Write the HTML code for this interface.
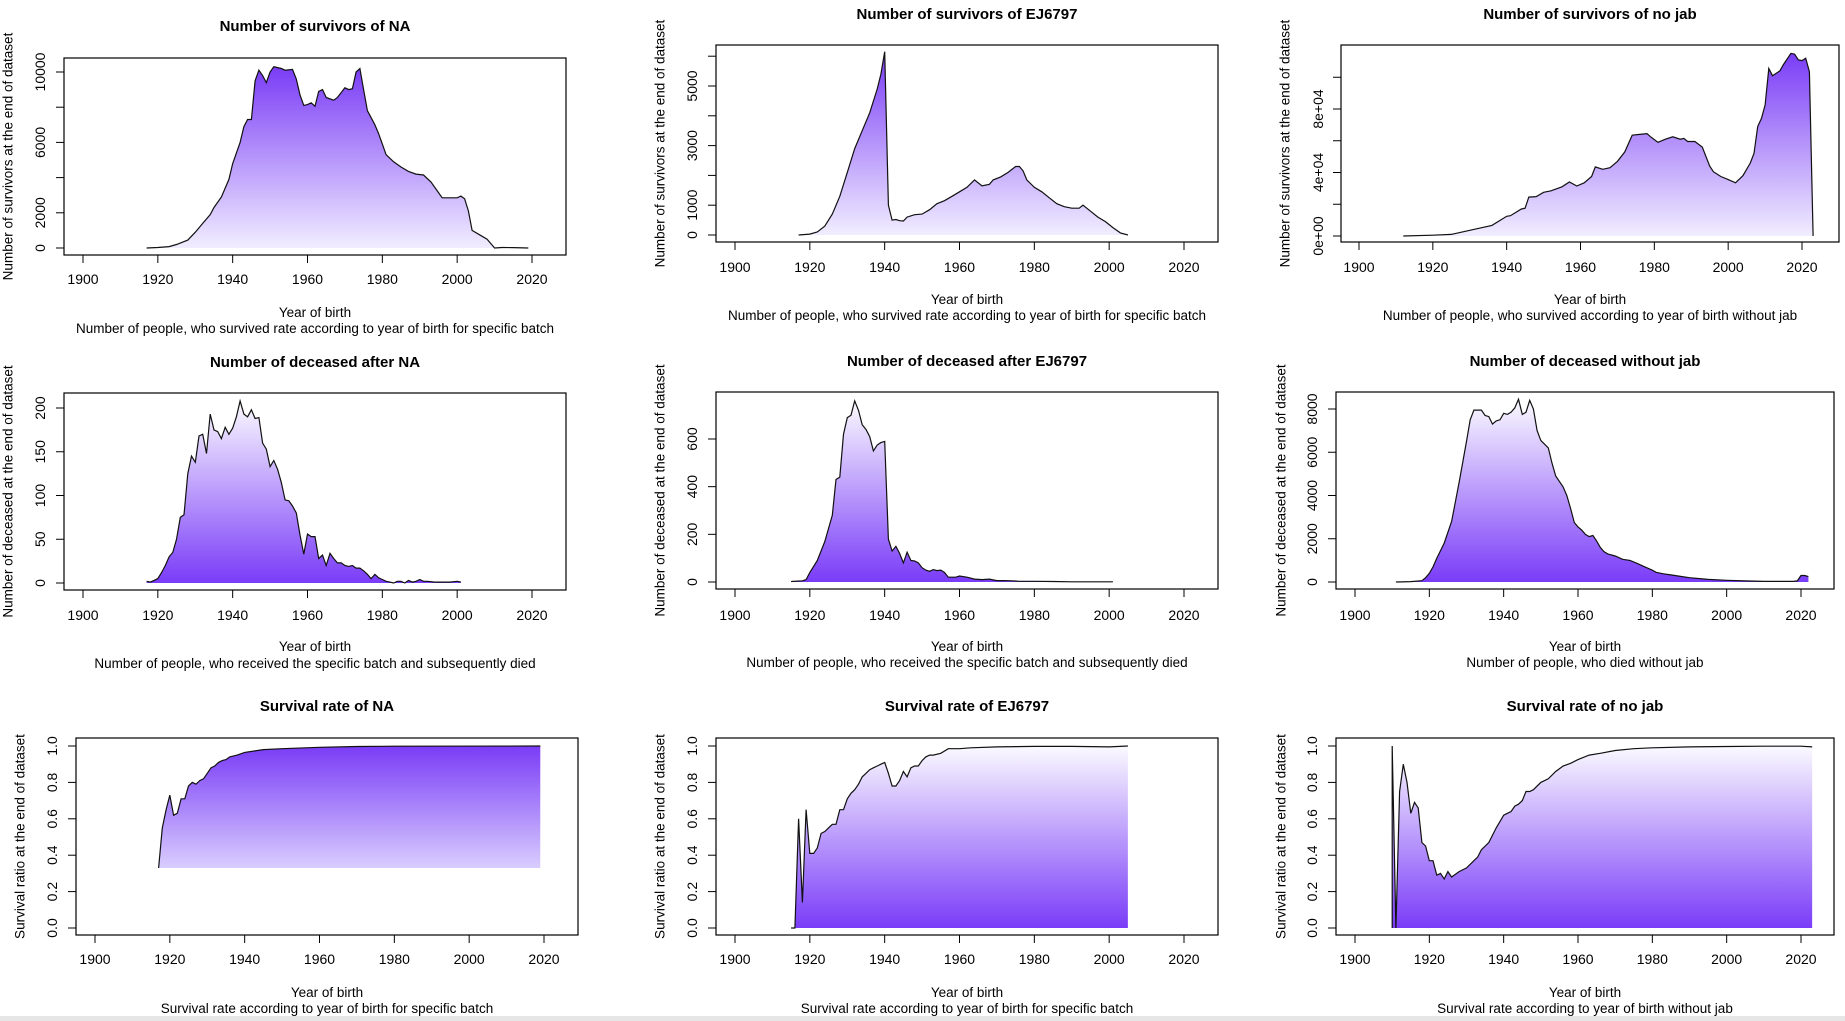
<!DOCTYPE html>
<html><head><meta charset="utf-8"><style>
html,body{margin:0;padding:0;background:#fff;}
svg{display:block;font-family:"Liberation Sans",Arial,sans-serif;}
</style></head><body>
<svg id="root" xmlns="http://www.w3.org/2000/svg" width="1845" height="1021" viewBox="0 0 1845 1021">
<defs>
<linearGradient id="gDarkTop" x1="0" y1="0" x2="0" y2="1"><stop offset="0" stop-color="#7a3cf6"/><stop offset="1" stop-color="#f1edff"/></linearGradient>
<linearGradient id="gDarkBot" x1="0" y1="0" x2="0" y2="1"><stop offset="0" stop-color="#fbfaff"/><stop offset="1" stop-color="#7a3cf8"/></linearGradient>
<linearGradient id="gDarkTop3" x1="0" y1="0" x2="0" y2="1"><stop offset="0" stop-color="#7a3cf6"/><stop offset="1" stop-color="#d9cdff"/></linearGradient>
</defs>
<rect x="0" y="1016" width="1845" height="5" fill="#e6e6e6"/>
</svg>
<script>
// ---- data ----
const yrsSurvNA=[1917,1920,1923,1925,1928,1930,1932,1934,1935,1937,1939,1940,1942,1943,1944,1945,1946,1947,1948,1949,1950,1951,1953,1954,1956,1957,1958,1959,1960,1961,1962,1963,1964,1965,1967,1968,1970,1971,1972,1973,1974,1975,1976,1978,1979,1981,1983,1985,1987,1989,1991,1993,1995,1996,1998,2000,2001,2002,2003,2004,2006,2008,2010,2012,2015,2019];
const valSurvNA=[0,30,80,200,450,900,1400,1900,2300,2900,3900,4800,6000,6900,7300,7300,9500,10100,9800,9400,10000,10300,10200,10100,10150,9600,8700,8100,8150,8250,8050,8900,9000,8550,8400,8550,9100,9000,9050,10000,10200,9000,7800,7000,6500,5300,4900,4600,4350,4200,4150,3750,3150,2850,2850,2850,2950,2800,2100,1000,750,500,0,30,20,0];
const yrsSurvEJ=[1917,1920,1922,1924,1926,1928,1930,1932,1934,1936,1938,1939,1940,1941,1942,1943,1944,1945,1946,1948,1950,1952,1954,1956,1958,1960,1962,1964,1966,1968,1969,1971,1973,1975,1976,1977,1978,1980,1982,1984,1986,1988,1990,1992,1993,1995,1997,1999,2001,2003,2005];
const valSurvEJ=[0,30,100,300,700,1300,2100,2900,3500,4100,4900,5400,6150,1000,500,520,480,470,600,680,700,850,1050,1150,1300,1450,1600,1850,1650,1700,1850,1950,2100,2300,2300,2150,1850,1600,1450,1250,1050,950,900,900,1000,800,600,450,250,70,0];
const yrsSurvNJ=[1912,1920,1925,1930,1936,1940,1941,1944,1945,1946,1948,1950,1952,1955,1957,1959,1961,1963,1964,1966,1968,1970,1972,1974,1976,1978,1979,1981,1983,1985,1987,1988,1989,1991,1993,1995,1996,1998,2000,2002,2004,2006,2007,2008,2009,2010,2011,2012,2014,2015,2017,2018,2019,2020,2021,2022,2023];
const valSurvNJ=[0,500,1000,3600,6700,12400,12800,17000,17500,24500,24800,27500,28500,31000,34000,31500,33500,37500,43500,42000,43000,47000,53000,63500,64000,64500,62500,59000,61000,62500,61000,61500,59500,59500,56000,44000,40500,37500,35500,33500,38000,46000,52000,69000,74000,82500,105500,101000,104000,108000,115000,114500,111000,110500,112000,103500,0];
const yrsDeadNA=[1917,1918,1919,1920,1921,1922,1923,1924,1925,1926,1927,1928,1929,1930,1931,1932,1933,1934,1935,1936,1937,1938,1939,1940,1941,1942,1943,1944,1945,1946,1947,1948,1949,1950,1951,1952,1953,1954,1955,1956,1957,1958,1959,1960,1961,1962,1963,1964,1965,1966,1967,1968,1969,1970,1971,1972,1973,1974,1975,1976,1977,1978,1979,1980,1981,1982,1983,1984,1985,1986,1987,1988,1989,1990,1991,1992,1994,1996,1998,2000,2001];
const valDeadNA=[2,1,3,5,12,20,30,35,50,75,78,125,145,138,168,170,148,193,175,173,165,178,170,177,190,208,193,190,198,188,189,160,153,133,140,130,115,95,94,88,80,55,33,56,53,53,28,32,20,34,28,23,23,20,19,20,17,17,14,10,5,10,6,4,2,1,0,2,2,0,3,1,2,4,2,2,1,1,1,2,1];
const yrsDeadEJ=[1915,1918,1919,1920,1922,1924,1926,1927,1928,1929,1930,1931,1932,1933,1934,1935,1936,1937,1938,1939,1940,1941,1942,1943,1944,1945,1946,1947,1948,1949,1950,1951,1952,1953,1954,1955,1956,1957,1958,1959,1960,1962,1964,1966,1968,1970,1972,1974,1976,1980,1985,1990,1993,1999,2001];
const valDeadEJ=[2,5,10,40,90,170,280,430,440,620,690,700,760,720,660,640,610,550,575,585,590,180,130,150,120,80,125,90,88,80,60,50,45,52,48,50,40,20,20,20,25,20,12,10,12,6,6,5,3,3,2,1,1,1,1];
const yrsDeadNJ=[1911,1915,1918,1919,1920,1921,1922,1924,1926,1928,1930,1931,1932,1934,1935,1936,1937,1938,1939,1940,1941,1942,1943,1944,1945,1946,1947,1948,1949,1950,1952,1953,1954,1956,1957,1958,1959,1960,1961,1962,1963,1964,1965,1966,1967,1968,1970,1972,1974,1976,1978,1980,1981,1983,1985,1988,1990,1995,2000,2005,2010,2018,2019,2020,2021,2022];
const valDeadNJ=[0,20,60,200,400,700,1100,1800,2800,4600,6500,7500,7950,7950,7700,7650,7300,7450,7500,7800,7750,7850,8050,8450,7750,7850,8400,8000,7000,6550,6200,5500,4900,4400,4000,3400,2750,2550,2400,2200,2100,2150,1900,1600,1400,1300,1200,1050,1000,850,700,550,450,380,330,250,200,120,80,50,30,30,50,300,300,250];
const yrsRateNA=[1917,1918,1919,1920,1921,1922,1923,1924,1925,1926,1927,1928,1929,1930,1931,1932,1933,1934,1935,1936,1938,1940,1945,1950,1960,1970,1980,2019];
const valRateNA=[0.33,0.55,0.65,0.73,0.62,0.63,0.71,0.71,0.78,0.80,0.79,0.81,0.82,0.85,0.88,0.89,0.91,0.92,0.925,0.94,0.95,0.965,0.98,0.985,0.993,0.997,0.999,1.0];
const yrsRateEJ=[1915,1916,1917,1918,1919,1920,1921,1922,1923,1924,1925,1926,1927,1928,1929,1930,1931,1932,1933,1934,1935,1936,1937,1938,1939,1940,1941,1942,1943,1944,1945,1946,1947,1948,1949,1950,1951,1952,1953,1955,1957,1960,1963,1970,1980,1990,2000,2005];
const valRateEJ=[0,0,0.6,0.14,0.65,0.41,0.41,0.44,0.52,0.53,0.55,0.57,0.57,0.65,0.65,0.71,0.74,0.76,0.79,0.83,0.85,0.87,0.88,0.89,0.90,0.91,0.85,0.78,0.78,0.81,0.86,0.83,0.88,0.89,0.89,0.92,0.94,0.95,0.95,0.96,0.985,0.985,0.99,0.995,0.998,0.998,0.995,1.0];
const yrsRateNJ=[1910,1910,1911,1912,1913,1914,1915,1916,1917,1918,1919,1920,1921,1922,1923,1924,1925,1926,1928,1930,1932,1933,1934,1936,1938,1940,1941,1942,1943,1944,1945,1946,1947,1948,1950,1952,1954,1956,1958,1960,1963,1966,1970,1975,1980,1990,2000,2010,2020,2023];
const valRateNJ=[0,1.0,0,0.75,0.9,0.8,0.63,0.69,0.66,0.47,0.45,0.37,0.37,0.29,0.30,0.27,0.31,0.28,0.31,0.33,0.37,0.39,0.43,0.47,0.55,0.62,0.63,0.64,0.67,0.68,0.70,0.75,0.75,0.76,0.80,0.82,0.86,0.89,0.905,0.925,0.95,0.96,0.975,0.985,0.99,0.995,0.997,0.999,0.999,0.995];
const xTickVals=[1900,1920,1940,1960,1980,2000,2020];
const yTicksSurvNA=[0,2000,4000,6000,8000,10000];
const yLabelsSurvNA=["0","2000","","6000","","10000"];
const yTicksSurvEJ=[0,1000,2000,3000,4000,5000,6000];
const yLabelsSurvEJ=["0","1000","","3000","","5000",""];
const yTicksSurvNJ=[0,20000,40000,60000,80000,100000];
const yLabelsSurvNJ=["0e+00","","4e+04","","8e+04",""];
const yTicksDeadNA=[0,50,100,150,200];
const yLabelsDeadNA=["0","50","100","150","200"];
const yTicksDeadEJ=[0,200,400,600];
const yLabelsDeadEJ=["0","200","400","600"];
const yTicksDeadNJ=[0,2000,4000,6000,8000];
const yLabelsDeadNJ=["0","2000","4000","6000","8000"];
const yTicksRate=[0,0.2,0.4,0.6,0.8,1.0];
const yLabelsRate=["0.0","0.2","0.4","0.6","0.8","1.0"];

const NS="http://www.w3.org/2000/svg";
const root=document.getElementById('root');
function mk(tag,attrs,parent){const e=document.createElementNS(NS,tag);for(const k in attrs)e.setAttribute(k,attrs[k]);(parent||root).appendChild(e);return e;}

const charts=[
 {id:'survivors-na',title:'Number of survivors of NA',ylab:'Number of survivors at the end of dataset',sub:'Number of people, who survived rate according to year of birth for specific batch',
  box:[64,566,58,255],xp:[83,532],yp:[248,72],yv:[0,10000],years:yrsSurvNA,vals:valSurvNA,yt:yTicksSurvNA,yl:yLabelsSurvNA,fill:'gDarkTop',base:0,
  ty:26,tl:279,xl:312,sl:328,ylx:8,ytx:40},
 {id:'survivors-ej6797',title:'Number of survivors of EJ6797',ylab:'Number of survivors at the end of dataset',sub:'Number of people, who survived rate according to year of birth for specific batch',
  box:[716,1218,45,242],xp:[735,1184],yp:[235,86],yv:[0,5000],years:yrsSurvEJ,vals:valSurvEJ,yt:yTicksSurvEJ,yl:yLabelsSurvEJ,fill:'gDarkTop',base:0,
  ty:14,tl:267,xl:299,sl:315,ylx:660,ytx:692},
 {id:'survivors-no-jab',title:'Number of survivors of no jab',ylab:'Number of survivors at the end of dataset',sub:'Number of people, who survived according to year of birth without jab',
  box:[1341,1839,45,242],xp:[1359,1802],yp:[236,109],yv:[0,80000],years:yrsSurvNJ,vals:valSurvNJ,yt:yTicksSurvNJ,yl:yLabelsSurvNJ,fill:'gDarkTop',base:0,
  ty:14,tl:267,xl:299,sl:315,ylx:1285,ytx:1318},
 {id:'deceased-na',title:'Number of deceased after NA',ylab:'Number of deceased at the end of dataset',sub:'Number of people, who received the specific batch and subsequently died',
  box:[64,566,393,590],xp:[83,532],yp:[583,408],yv:[0,200],years:yrsDeadNA,vals:valDeadNA,yt:yTicksDeadNA,yl:yLabelsDeadNA,fill:'gDarkBot',base:0,
  ty:362,tl:615,xl:646,sl:663,ylx:8,ytx:40},
 {id:'deceased-ej6797',title:'Number of deceased after EJ6797',ylab:'Number of deceased at the end of dataset',sub:'Number of people, who received the specific batch and subsequently died',
  box:[716,1218,392,589],xp:[735,1184],yp:[582,439],yv:[0,600],years:yrsDeadEJ,vals:valDeadEJ,yt:yTicksDeadEJ,yl:yLabelsDeadEJ,fill:'gDarkBot',base:0,
  ty:361,tl:615,xl:646,sl:662,ylx:660,ytx:692},
 {id:'deceased-no-jab',title:'Number of deceased without jab',ylab:'Number of deceased at the end of dataset',sub:'Number of people, who died without jab',
  box:[1336,1834,392,589],xp:[1355,1801],yp:[582,409],yv:[0,8000],years:yrsDeadNJ,vals:valDeadNJ,yt:yTicksDeadNJ,yl:yLabelsDeadNJ,fill:'gDarkBot',base:0,
  ty:361,tl:615,xl:646,sl:662,ylx:1281,ytx:1312},
 {id:'survival-rate-na',title:'Survival rate of NA',ylab:'Survival ratio at the end of dataset',sub:'Survival rate according to year of birth for specific batch',
  box:[76,578,738,935],xp:[95,544],yp:[928,746],yv:[0,1],years:yrsRateNA,vals:valRateNA,yt:yTicksRate,yl:yLabelsRate,fill:'gDarkTop3',base:'min',
  ty:706,tl:959,xl:992,sl:1008,ylx:20,ytx:52},
 {id:'survival-rate-ej6797',title:'Survival rate of EJ6797',ylab:'Survival ratio at the end of dataset',sub:'Survival rate according to year of birth for specific batch',
  box:[716,1218,738,935],xp:[735,1184],yp:[928,746],yv:[0,1],years:yrsRateEJ,vals:valRateEJ,yt:yTicksRate,yl:yLabelsRate,fill:'gDarkBot',base:0,
  ty:706,tl:959,xl:992,sl:1008,ylx:660,ytx:692},
 {id:'survival-rate-no-jab',title:'Survival rate of no jab',ylab:'Survival ratio at the end of dataset',sub:'Survival rate according to year of birth without jab',
  box:[1336,1834,738,935],xp:[1355,1801],yp:[928,746],yv:[0,1],years:yrsRateNJ,vals:valRateNJ,yt:yTicksRate,yl:yLabelsRate,fill:'gDarkBot',base:0,
  ty:706,tl:959,xl:992,sl:1008,ylx:1281,ytx:1312}
];

charts.forEach(c=>{
  const g=mk('g',{});
  
  
  const xS=v=>c.xp[0]+(v-1900)/120*(c.xp[1]-c.xp[0]);
  const yS=v=>c.yp[0]+(v-c.yv[0])/(c.yv[1]-c.yv[0])*(c.yp[1]-c.yp[0]);
  const [bx0,bx1,by0,by1]=c.box;
  const cx=(bx0+bx1)/2;
  const baseV=c.base==='min'?Math.min(...c.vals):c.base;
  let d='M'+xS(c.years[0])+','+yS(baseV);
  c.years.forEach((y,i)=>{d+=' L'+xS(y).toFixed(1)+','+yS(c.vals[i]).toFixed(1);});
  d+=' L'+xS(c.years[c.years.length-1])+','+yS(baseV)+' Z';
  const area=mk('path',{d:d,fill:'url(#'+c.fill+')',stroke:'none'},g);
  
  
  let ld='';
  c.years.forEach((y,i)=>{ld+=(i?' L':'M')+xS(y).toFixed(1)+','+yS(c.vals[i]).toFixed(1);});
  const line=mk('path',{d:ld,fill:'none',stroke:'#111','stroke-width':1.2},g);
  
  
  const box=mk('rect',{x:bx0,y:by0,width:bx1-bx0,height:by1-by0,fill:'none',stroke:'#000','stroke-width':1.2},g);
  
  
  const xa=mk('g',{},g);
  
  
  mk('line',{x1:xS(1900),x2:xS(2020),y1:by1,y2:by1,stroke:'#000','stroke-width':1},xa);
  xTickVals.forEach(v=>{
    mk('line',{x1:xS(v),x2:xS(v),y1:by1,y2:by1+8,stroke:'#000','stroke-width':1},xa);
    const t=mk('text',{x:xS(v),y:c.tl+5,'text-anchor':'middle','font-size':14,fill:'#000'},xa);
    t.textContent=v;
    
    
  });
  const ya=mk('g',{},g);
  
  
  mk('line',{x1:bx0,x2:bx0,y1:yS(c.yt[0]),y2:yS(c.yt[c.yt.length-1]),stroke:'#000','stroke-width':1},ya);
  c.yt.forEach((v,i)=>{
    mk('line',{x1:bx0-8,x2:bx0,y1:yS(v),y2:yS(v),stroke:'#000','stroke-width':1},ya);
    if(c.yl[i]){
      const t=mk('text',{x:c.ytx,y:yS(v),'text-anchor':'middle','font-size':14,fill:'#000',transform:'rotate(-90 '+c.ytx+' '+yS(v)+')',dy:'0.35em'},ya);
      t.textContent=c.yl[i];
      
      
    }
  });
  const ym=(by0+by1)/2;
  const yl=mk('text',{x:c.ylx,y:ym,'text-anchor':'middle','font-size':13.5,fill:'#000',transform:'rotate(-90 '+c.ylx+' '+ym+')',dy:'0.35em'},g);
  yl.textContent=c.ylab;
  
  
  const ti=mk('text',{x:cx,y:c.ty+5,'text-anchor':'middle','font-size':15,'font-weight':'bold',fill:'#000'},g);
  ti.textContent=c.title;
  
  
  const xl=mk('text',{x:cx,y:c.xl+5,'text-anchor':'middle','font-size':13.5,fill:'#000'},g);
  xl.textContent='Year of birth';
  
  
  const sl=mk('text',{x:cx,y:c.sl+5,'text-anchor':'middle','font-size':13.5,fill:'#000'},g);
  sl.textContent=c.sub;
  
  
});
</script>
</body></html>
